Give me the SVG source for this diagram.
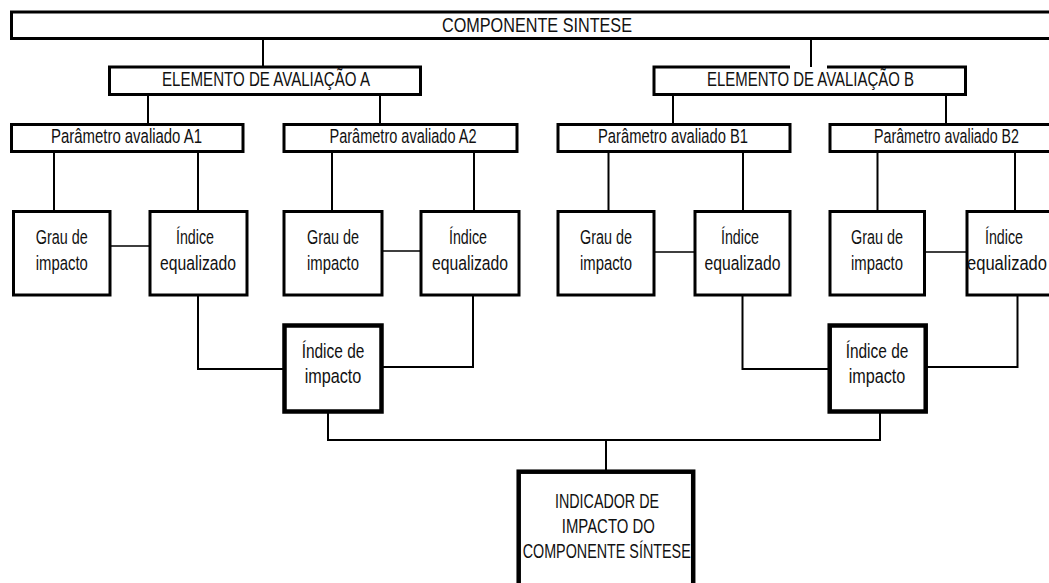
<svg xmlns="http://www.w3.org/2000/svg" width="1049" height="583" viewBox="0 0 1049 583">
<style>
.b{fill:#fff;stroke:#000;stroke-width:3}
.bk{fill:#fff;stroke:#000;stroke-width:4.5}
.t{font-family:"Liberation Sans",Arial,sans-serif;font-size:20.5px;fill:#111;text-anchor:middle}
.c{fill:none;stroke:#000;stroke-width:2}
.cs{fill:none;stroke:#000;stroke-width:1.6}
</style>
<rect width="1049" height="583" fill="#fff"/>
<g id="connectors">
<path class="c" d="M263,39V67M811,39V67M148,94V124M380,94V124M673,93V124M946,90V124"/>
<path class="c" d="M54,151V211M198,151V211M332,151V211M474,151V211M608.5,151V211M743,151V211M877.5,151V211M1015,151V211"/>
<path class="cs" d="M110,246H150M382,251H421M654,252H695M924.5,252H967"/>
<path class="c" d="M198,295V369H284M473,295V367H381M742.5,295V369H829M1017.5,295V367H925"/>
<path class="c" d="M328,411V440H880V411M606,440V471"/>
</g>
<g id="componente">
<rect class="b" x="11.5" y="12" width="1050" height="26.5"/>
<text class="t" x="537" y="31.5" textLength="190" lengthAdjust="spacingAndGlyphs">COMPONENTE SINTESE</text>
</g>
<g id="elemA">
<rect class="b" x="109.5" y="67" width="311" height="27.5"/>
<text class="t" x="266" y="86" textLength="208" lengthAdjust="spacingAndGlyphs">ELEMENTO DE AVALIAÇÃO A</text>
</g>
<g id="elemB">
<path class="b" d="M790,67H654V94.5H965.5V67H827"/>
<text class="t" x="810.5" y="86" textLength="207" lengthAdjust="spacingAndGlyphs">ELEMENTO DE AVALIAÇÃO B</text>
</g>
<g id="paramA1">
<rect class="b" x="11.5" y="124.5" width="231.5" height="27"/>
<text class="t" x="126.5" y="143" textLength="151" lengthAdjust="spacingAndGlyphs">Parâmetro avaliado A1</text>
</g>
<g id="paramA2">
<rect class="b" x="284" y="124.5" width="233" height="27"/>
<text class="t" x="403" y="143" textLength="147" lengthAdjust="spacingAndGlyphs">Parâmetro avaliado A2</text>
</g>
<g id="paramB1">
<rect class="b" x="558" y="124.5" width="232" height="27"/>
<text class="t" x="673" y="143" textLength="150" lengthAdjust="spacingAndGlyphs">Parâmetro avaliado B1</text>
</g>
<g id="paramB2">
<rect class="b" x="830" y="124.5" width="232" height="27"/>
<text class="t" x="946.5" y="143" textLength="145" lengthAdjust="spacingAndGlyphs">Parâmetro avaliado B2</text>
</g>
<g id="grauA1">
<rect class="b" x="13.5" y="211.5" width="96.5" height="83.5"/>
<text class="t" x="61.8" y="244" textLength="52" lengthAdjust="spacingAndGlyphs">Grau de</text>
<text class="t" x="61.8" y="270" textLength="52" lengthAdjust="spacingAndGlyphs">impacto</text>
</g>
<g id="indiceA1">
<rect class="b" x="150" y="211.5" width="97" height="83.5"/>
<text class="t" x="195" y="244" textLength="38" lengthAdjust="spacingAndGlyphs">Índice</text>
<text class="t" x="198" y="270" textLength="76" lengthAdjust="spacingAndGlyphs">equalizado</text>
</g>
<g id="grauA2">
<rect class="b" x="284" y="211.5" width="98" height="83.5"/>
<text class="t" x="333" y="244" textLength="52" lengthAdjust="spacingAndGlyphs">Grau de</text>
<text class="t" x="333" y="270" textLength="52" lengthAdjust="spacingAndGlyphs">impacto</text>
</g>
<g id="indiceA2">
<rect class="b" x="421" y="211.5" width="98" height="83.5"/>
<text class="t" x="468" y="244" textLength="38" lengthAdjust="spacingAndGlyphs">Índice</text>
<text class="t" x="470" y="270" textLength="76" lengthAdjust="spacingAndGlyphs">equalizado</text>
</g>
<g id="grauB1">
<rect class="b" x="558" y="211.5" width="96" height="83.5"/>
<text class="t" x="606" y="244" textLength="52" lengthAdjust="spacingAndGlyphs">Grau de</text>
<text class="t" x="606" y="270" textLength="52" lengthAdjust="spacingAndGlyphs">impacto</text>
</g>
<g id="indiceB1">
<rect class="b" x="695" y="211.5" width="95" height="83.5"/>
<text class="t" x="740" y="244" textLength="38" lengthAdjust="spacingAndGlyphs">Índice</text>
<text class="t" x="742.5" y="270" textLength="76" lengthAdjust="spacingAndGlyphs">equalizado</text>
</g>
<g id="grauB2">
<rect class="b" x="830" y="211.5" width="94.5" height="83.5"/>
<text class="t" x="877" y="244" textLength="52" lengthAdjust="spacingAndGlyphs">Grau de</text>
<text class="t" x="877" y="270" textLength="52" lengthAdjust="spacingAndGlyphs">impacto</text>
</g>
<g id="indiceB2">
<rect class="b" x="967" y="211.5" width="100" height="83.5"/>
<text class="t" x="1004" y="244" textLength="38" lengthAdjust="spacingAndGlyphs">Índice</text>
<text class="t" x="1007" y="270" textLength="80" lengthAdjust="spacingAndGlyphs">equalizado</text>
</g>
<g id="impactoA">
<rect class="bk" x="284.5" y="325.5" width="97" height="86"/>
<text class="t" x="333" y="358" textLength="62.7" lengthAdjust="spacingAndGlyphs">Índice de</text>
<text class="t" x="333" y="383" textLength="56.7" lengthAdjust="spacingAndGlyphs">impacto</text>
</g>
<g id="impactoB">
<rect class="bk" x="829.7" y="325.5" width="96" height="86"/>
<text class="t" x="877" y="358" textLength="62.7" lengthAdjust="spacingAndGlyphs">Índice de</text>
<text class="t" x="877" y="383" textLength="56.7" lengthAdjust="spacingAndGlyphs">impacto</text>
</g>
<g id="indicador">
<rect class="bk" x="518.7" y="471.7" width="174.5" height="130"/>
<text class="t" x="607" y="507.5" textLength="104" lengthAdjust="spacingAndGlyphs">INDICADOR DE</text>
<text class="t" x="608.3" y="533" textLength="93" lengthAdjust="spacingAndGlyphs">IMPACTO DO</text>
<text class="t" x="606.7" y="557.5" textLength="168" lengthAdjust="spacingAndGlyphs">COMPONENTE SÍNTESE</text>
</g>
</svg>
